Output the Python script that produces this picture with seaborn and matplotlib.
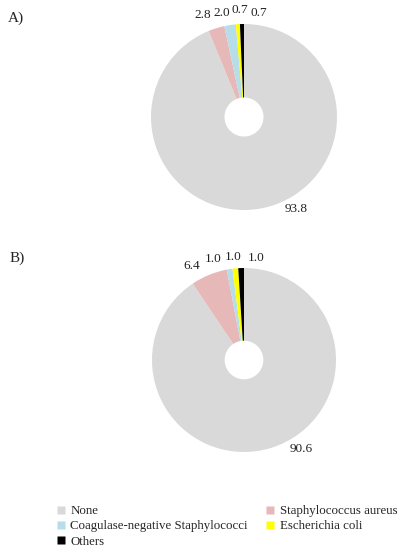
import matplotlib
matplotlib.use("Agg")
import matplotlib.pyplot as plt
import seaborn as sns
from matplotlib.lines import Line2D

sns.set_style("white")
plt.rcParams['font.family'] = ['Liberation Serif', 'DejaVu Serif']

categories = ['None', 'Staphylococcus aureus', 'Coagulase-negative Staphylococci',
              'Escherichia coli', 'Others']
values_a = [93.8, 2.8, 2.0, 0.7, 0.7]
values_b = [90.6, 6.4, 1.0, 1.0, 1.0]
panel_names = ['A)', 'B)']

colors = sns.color_palette(['#d9d9d9', '#e6b8b7', '#b7dde8', '#ffff00', '#000000'])

# label placement (in pie-radius units), Excel style spread for thin slices
label_pos_a = [(0.56, -0.99), (-0.44, 1.10), (-0.24, 1.12), (-0.04, 1.15), (0.16, 1.12)]
label_pos_b = [(0.62, -0.97), (-0.57, 1.02), (-0.34, 1.10), (-0.12, 1.12), (0.13, 1.11)]

W, H = 408, 550
fig = plt.figure(figsize=(W / 100, H / 100), dpi=100)


def draw_pie(vals, lpos, cx, cy, r, name, nx, ny):
    ax = fig.add_axes([(cx - r) / W, 1 - (cy + r) / H, 2 * r / W, 2 * r / H])
    ax.pie(vals, colors=colors, startangle=90, counterclock=False,
           wedgeprops=dict(width=0.79, edgecolor='none'))
    ax.set_xlim(-1, 1)
    ax.set_ylim(-1, 1)
    ax.set_aspect('equal')
    ax.axis('off')
    for v, (x, y) in zip(vals, lpos):
        ax.text(x, y, f'{v:.1f}', ha='center', va='center', fontsize=9.5,
                color='#222222', clip_on=False)
    fig.text(nx / W, 1 - ny / H, name, ha='left', va='center', fontsize=11)


draw_pie(values_a, label_pos_a, 244, 117, 93, panel_names[0], 8, 18)
draw_pie(values_b, label_pos_b, 244, 360, 92, panel_names[1], 10, 258)

order = [0, 2, 4, 1, 3]
handles = [Line2D([0], [0], marker='s', linestyle='none', markersize=6,
                  markerfacecolor=colors[i], markeredgecolor='none')
           for i in order]
labels = [categories[i] for i in order]
fig.legend(handles, labels, ncol=2, loc='upper left',
           bbox_to_anchor=(51 / W, 1 - 500 / H), frameon=False,
           fontsize=9.3, handlelength=0.8, handletextpad=0.3,
           columnspacing=1.35, labelspacing=0.25, borderaxespad=0)

fig.savefig('out.png', dpi=100)
